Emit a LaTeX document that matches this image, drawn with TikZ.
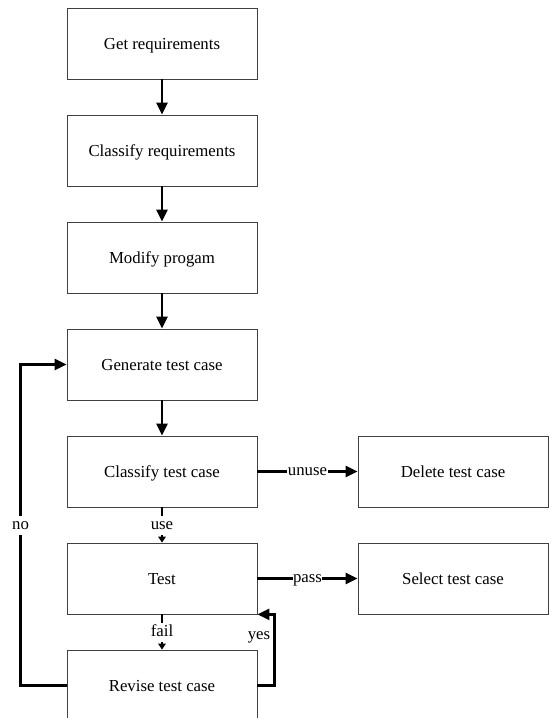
\documentclass[tikz,border=0pt]{standalone}
\usepackage{fontspec}
\setmainfont{Liberation Serif}
\usetikzlibrary{shapes,arrows.meta,positioning}

\begin{document}
\begin{tikzpicture}[x=1pt,y=1pt,
		block/.style={draw=black!75, line width=0.8pt, minimum width=190pt, minimum height=71pt, text height=13pt, text depth=2pt, font=\fontsize{16.8pt}{20pt}\selectfont},
		flow/.style={line width=2.4pt, -{Triangle[length=12pt,width=11pt]}},
		flowsmall/.style={line width=2.4pt, -{Triangle[length=6pt,width=7.5pt]}},
		lab/.style={fill=white, inner xsep=0.5pt, inner ysep=2pt, text height=11.5pt, text depth=3.5pt, font=\fontsize{16.8pt}{20pt}\selectfont}]
		\useasboundingbox (0,0) rectangle (549,-718);
		% main column
		\node[block] (getreq) at (162,-43.5) {Get requirements};
		\node[block, below=35.2pt of getreq] (classreq) {Classify requirements};
		\node[block, below=35.2pt of classreq] (modprog) {Modify progam};
		\node[block, below=35.2pt of modprog] (gentc) {Generate test case};
		\node[block, below=35.2pt of gentc] (classtc) {Classify test case};
		\node[block, below=35.2pt of classtc] (test) {Test};
		\node[block, below=35.2pt of test] (revtc) {Revise test case};
		% right column
		\node[block, right=100.2pt of classtc] (deltc) {Delete test case};
		\node[block, right=100.2pt of test] (seltc) {Select test case};
		% connectors
		\draw[flow] (getreq) -- (classreq);
		\draw[flow] (classreq) -- (modprog);
		\draw[flow] (modprog) -- (gentc);
		\draw[flow] (gentc) -- (classtc);
		\draw[flowsmall] (classtc) -- node[lab] {use} (test);
		\draw[flowsmall] (test) -- node[lab] {fail} (revtc);
		\draw[flow] (classtc) -- node[lab] {unuse} (deltc);
		\draw[flow] (test) -- node[lab] {pass} (seltc);
		\coordinate (noturn) at ([xshift=-46pt]revtc.west);
		\coordinate (yesturn) at ([xshift=17pt]revtc.east);
		\draw[flow] (revtc.west) -- (noturn) |- node[pos=0.25, lab, inner xsep=1pt] {no} (gentc.west);
		\draw[flow] (revtc.east) -- (yesturn) |- node[pos=0.34, left, inner sep=3pt, font=\fontsize{16.8pt}{20pt}\selectfont] {yes} (test.south east);
\end{tikzpicture}
\end{document}
